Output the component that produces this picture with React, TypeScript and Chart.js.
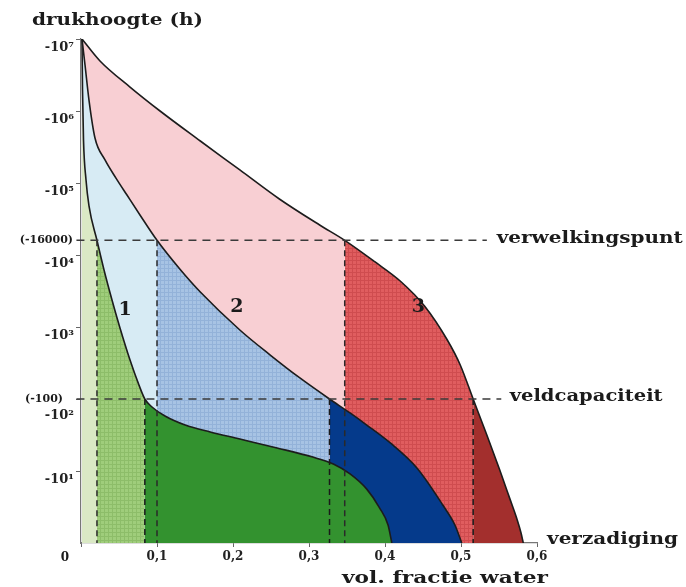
import React, { useEffect, useRef } from 'react';
import { Chart, registerables } from 'chart.js';

Chart.register(...registerables);

// ---- data (x = volumetric water fraction, h = |pressure head|) ----
const soil1X = [0.0013, 0.002, 0.0033, 0.0066, 0.0105, 0.021, 0.0303, 0.0408, 0.0513, 0.0645, 0.0763, 0.084, 0.0934, 0.1105, 0.137, 0.17, 0.209, 0.258, 0.305, 0.332, 0.354, 0.376, 0.393, 0.404, 0.409];
const soil1H = [1e7, 1.96e6, 3.96e5, 1.1e5, 4.8e4, 16000, 6190, 2370, 969, 348, 156, 100, 77.4, 58, 43.5, 34.8, 27.8, 20.9, 15.6, 12.5, 9.1, 5.6, 3.06, 1.78, 1];

const soil2X = [0.0013, 0.0053, 0.0105, 0.0184, 0.0316, 0.046, 0.0605, 0.0776, 0.1, 0.13, 0.157, 0.209, 0.249, 0.288, 0.327, 0.354, 0.376, 0.407, 0.442, 0.476, 0.492, 0.501];
const soil2H = [1e7, 4.35e6, 1.42e6, 4.22e5, 2.09e5, 1.17e5, 6.8e4, 3.6e4, 16000, 6390, 3060, 909, 408, 196, 100, 64, 43.5, 24.5, 11, 3.37, 1.78, 1];

const soil3X = [0.0013, 0.025, 0.0645, 0.104, 0.157, 0.209, 0.261, 0.314, 0.347, 0.387, 0.42, 0.452, 0.482, 0.499, 0.516, 0.534, 0.551, 0.564, 0.574, 0.579, 0.582];
const soil3H = [1e7, 4.95e6, 2.15e6, 1e6, 3.83e5, 1.52e5, 6.0e4, 2.61e4, 16000, 8000, 4355, 1958, 660, 297, 100, 31.6, 10.3, 4.2, 2.09, 1.38, 1];

const wiltingX = [0.021, 0.1, 0.347];
const fieldCapX = [0.084, 0.327, 0.516];
const WILTING_H = 16000;
const FIELD_H = 100;

const yTickExponents = [1, 2, 3, 4, 5, 6, 7];
const xTickValues = [0, 0.1, 0.2, 0.3, 0.4, 0.5, 0.6];

const soilLabels = ['1', '2', '3'];
const soilLabelX = [0.058, 0.205, 0.444];
const soilLabelH = [1700, 1900, 1900];

const guideNames = ['verwelkingspunt', 'veldcapaciteit'];
const guideH = [WILTING_H, FIELD_H];
const guideStartX = [-0.006, -0.006];
const guideEndX = [0.534, 0.553];
const guideTextX = [0.547, 0.564];
const guideTextWidth = [186, 153];
const headLabels = ['(-16000)', '(-100)'];

// ---- styles ----
const paleColors = ['#dae9c5', '#d7ebf4', '#f8cfd3'];
const midColors = ['#9fcd7b', '#a7c3e4', '#e05d5f'];
const midLines = ['#8dbd69', '#93b2d9', '#cf4c4f'];
const darkColors = ['#33922f', '#053a8b', '#a32f2d'];

const SERIF = '"DejaVu Serif", "Liberation Serif", serif';
const SUP: Record<number, string> = { 0: '⁰', 1: '¹', 2: '²', 3: '³', 4: '⁴', 5: '⁵', 6: '⁶', 7: '⁷' };

function makePattern(base: string, line: string): CanvasPattern | string {
  const c = document.createElement('canvas');
  c.width = 4;
  c.height = 4;
  const g = c.getContext('2d');
  if (!g) return base;
  g.fillStyle = base;
  g.fillRect(0, 0, 4, 4);
  g.fillStyle = line;
  g.fillRect(0, 0, 4, 1);
  g.fillRect(0, 0, 1, 4);
  const p = g.createPattern(c, 'repeat');
  return p || base;
}

function drawFitted(
  ctx: CanvasRenderingContext2D,
  text: string,
  x: number,
  y: number,
  font: string,
  width: number | null,
  align: CanvasTextAlign = 'left'
) {
  ctx.save();
  ctx.font = font;
  const w = ctx.measureText(text).width;
  const sx = width ? width / w : 1;
  ctx.translate(x, y);
  ctx.scale(sx, 1);
  ctx.textAlign = align;
  ctx.textBaseline = 'middle';
  ctx.fillText(text, 0, 0);
  ctx.restore();
}

const textPlugin = {
  id: 'soilTexts',
  afterDatasetsDraw(chart: any) {
    const { ctx, chartArea } = chart;
    const xs = chart.scales.x;
    const ys = chart.scales.y;
    ctx.save();
    ctx.fillStyle = '#1b1b1b';
    drawFitted(ctx, 'drukhoogte (h)', chartArea.left - 49, chartArea.top - 18, `bold 17px ${SERIF}`, 171);
    drawFitted(ctx, 'vol. fractie water', chartArea.left + 261, chartArea.bottom + 36, `bold 17px ${SERIF}`, 206);
    drawFitted(ctx, 'verzadiging', chartArea.right + 10, chartArea.bottom - 3, `bold 17px ${SERIF}`, 131);
    drawFitted(ctx, '0', chartArea.left - 16, chartArea.bottom + 15, `bold 12px ${SERIF}`, null, 'center');
    guideNames.forEach((name, i) => {
      drawFitted(ctx, name, xs.getPixelForValue(guideTextX[i]), ys.getPixelForValue(guideH[i]) - 2, `bold 17px ${SERIF}`, guideTextWidth[i]);
    });
    headLabels.forEach((lab, i) => {
      drawFitted(ctx, lab, chartArea.left - (i === 0 ? 8 : 18), ys.getPixelForValue(guideH[i]), `bold 11px ${SERIF}`, null, 'right');
    });
    soilLabels.forEach((lab, i) => {
      drawFitted(ctx, lab, xs.getPixelForValue(soilLabelX[i]), ys.getPixelForValue(soilLabelH[i]), `bold 19px ${SERIF}`, null, 'center');
    });
    ctx.restore();
  },
};

export default function App() {
  const ref = useRef<HTMLCanvasElement | null>(null);

  useEffect(() => {
    const canvas = ref.current;
    if (!canvas) return;

    const soils = [
      { xs: soil1X, hs: soil1H },
      { xs: soil2X, hs: soil2H },
      { xs: soil3X, hs: soil3H },
    ];

    const datasets: any[] = [];

    soils.forEach((s, i) => {
      const mid = makePattern(midColors[i], midLines[i]);
      datasets.push({
        label: 'soil ' + (i + 1),
        data: s.xs.map((x, k) => ({ x, y: s.hs[k] })),
        borderColor: '#1c1c1c',
        borderWidth: 1.6,
        pointRadius: 0,
        fill: 'start',
        backgroundColor: paleColors[i],
        cubicInterpolationMode: 'monotone',
        order: 10 + i * 10,
        segment: {
          backgroundColor: (c: any) => {
            const x0 = c.p0.parsed.x;
            if (x0 < wiltingX[i] - 1e-9) return paleColors[i];
            if (x0 < fieldCapX[i] - 1e-9) return mid;
            return darkColors[i];
          },
        },
      });
    });

    guideH.forEach((h, i) => {
      datasets.push({
        label: guideNames[i],
        data: [
          { x: guideStartX[i], y: h },
          { x: guideEndX[i], y: h },
        ],
        borderColor: '#3a3a3a',
        borderWidth: 1.5,
        borderDash: [8, 6],
        pointRadius: 0,
        fill: false,
        clip: false,
        order: 1,
      });
    });

    wiltingX.forEach((x) => {
      datasets.push({
        data: [
          { x, y: WILTING_H },
          { x, y: 1 },
        ],
        borderColor: '#2a2a2a',
        borderWidth: 1.5,
        borderDash: [6, 4],
        pointRadius: 0,
        fill: false,
        order: 1,
      });
    });
    fieldCapX.forEach((x) => {
      datasets.push({
        data: [
          { x, y: FIELD_H },
          { x, y: 1 },
        ],
        borderColor: '#1a1a1a',
        borderWidth: 1.5,
        borderDash: [6, 4],
        pointRadius: 0,
        fill: false,
        order: 1,
      });
    });

    const chart = new Chart(canvas, {
      type: 'line',
      data: { datasets },
      options: {
        animation: false,
        responsive: false,
        devicePixelRatio: 1,
        layout: { padding: { top: 39, right: 149, left: 0, bottom: 0 } },
        plugins: {
          legend: { display: false },
          tooltip: { enabled: false },
        },
        scales: {
          x: {
            type: 'linear',
            min: 0,
            max: 0.6,
            afterFit: (s: any) => {
              s.height = 44;
            },
            afterBuildTicks: (s: any) => {
              s.ticks = xTickValues.map((v) => ({ value: v }));
            },
            grid: { drawOnChartArea: false, drawTicks: true, tickLength: 4, color: '#666' },
            border: { display: true, color: '#777', width: 1.2 },
            ticks: {
              padding: 3,
              color: '#222',
              font: { family: SERIF, weight: 'bold', size: 12 },
              callback: (v: any) => (Number(v) === 0 ? '' : Number(v).toFixed(1).replace('.', ',')),
            },
          },
          y: {
            type: 'logarithmic',
            min: 1,
            max: 1e7,
            afterFit: (s: any) => {
              s.width = 81;
            },
            afterBuildTicks: (s: any) => {
              s.ticks = yTickExponents.map((e) => ({ value: Math.pow(10, e) }));
            },
            grid: { drawOnChartArea: false, drawTicks: true, tickLength: 5, color: '#666' },
            border: { display: true, color: '#777', width: 1.2 },
            ticks: {
              padding: 2,
              labelOffset: 9,
              color: '#222',
              font: { family: SERIF, weight: 'bold', size: 13 },
              callback: (v: any) => {
                const e = Math.round(Math.log10(Number(v)));
                const lab = '-10' + SUP[e];
                return e === 2 ? ['', lab] : lab;
              },
            },
          },
        },
      } as any,
      plugins: [textPlugin],
    });

    return () => chart.destroy();
  }, []);

  return (
    <div style={{ position: 'absolute', left: 0, top: 0, width: 686, height: 587, background: '#fff' }}>
      <canvas ref={ref} width={686} height={587} style={{ display: 'block', width: 686, height: 587 }} />
    </div>
  );
}
